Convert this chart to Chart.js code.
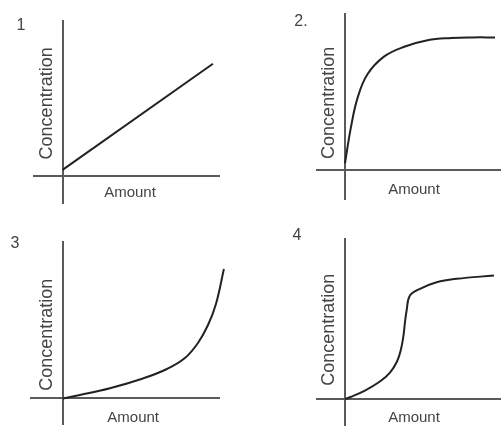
<!DOCTYPE html>
<html>
<head>
<meta charset="utf-8">
<script src="https://cdn.jsdelivr.net/npm/chart.js@4"></script>
<style>
  html, body { margin: 0; padding: 0; background: #fff; }
  #wrap { position: relative; width: 502px; height: 435px; overflow: hidden; }
  .panel { position: absolute; }
</style>
</head>
<body>
<div id="wrap">
  <div class="panel" style="left:0;top:0;width:251px;height:218px"><canvas id="c1"></canvas></div>
  <div class="panel" style="left:251px;top:0;width:251px;height:218px"><canvas id="c2"></canvas></div>
  <div class="panel" style="left:0;top:218px;width:251px;height:217px"><canvas id="c3"></canvas></div>
  <div class="panel" style="left:251px;top:218px;width:251px;height:217px"><canvas id="c4"></canvas></div>
</div>
<script>
const xTitle = "Amount";
const yTitle = "Concentration";
const panelNumbers = ["1", "2.", "3", "4"];

// 1: straight line
const amount1 = [0, 10.03];
const conc1 = [0.55, 10.2];

// 2: rises fast then levels off
const amount2 = [0, 0.4, 0.85, 1.5, 2.6, 3.95, 5.5, 7.1, 8.5, 10.0];
const conc2 = [0.6, 3.9, 6.6, 8.7, 10.3, 11.2, 11.8, 12.0, 12.05, 12.05];

// 3: slow start, steep at the end
const amount3 = [0, 1.15, 3.15, 5.35, 6.95, 8.15, 9.02, 9.69, 10.22, 10.75];
const conc3 = [0, 0.32, 0.93, 1.82, 2.68, 3.68, 5.05, 6.68, 8.59, 11.77];

// 4: s-shaped
const amount4 = [0, 0.33, 1.33, 2.33, 3.0, 3.47, 3.73, 3.9, 4.0, 4.11, 4.33, 5.0, 6.11, 7.45, 9.93];
const conc4 = [0, 0.16, 0.77, 1.59, 2.41, 3.41, 4.5, 5.77, 7.0, 8.05, 9.41, 10.02, 10.62, 10.93, 11.23];

const textFont = '"Liberation Sans", Arial, sans-serif';

const panelText = {
  id: "panelText",
  afterDraw(chart, args, opts) {
    const { ctx } = chart;
    const xs = chart.scales.x;
    const ys = chart.scales.y;
    ctx.save();
    ctx.fillStyle = "#444";
    ctx.textAlign = "center";
    ctx.textBaseline = "middle";
    ctx.font = "16px " + textFont;
    ctx.fillText(opts.num, opts.numX, opts.numY);
    ctx.font = "15px " + textFont;
    ctx.fillText(xTitle, xs.getPixelForValue(opts.xTitleAt), ys.getPixelForValue(0) + opts.xTitleGap);
    ctx.translate(xs.getPixelForValue(0) - 16, ys.getPixelForValue(opts.yTitleAt));
    ctx.rotate(-Math.PI / 2);
    ctx.font = "18px " + textFont;
    ctx.fillText(yTitle, 0, 0);
    ctx.restore();
  }
};

function axisScale(min, max) {
  return {
    type: "linear",
    min: min,
    max: max,
    afterBuildTicks: (scale) => { scale.ticks = [{ value: 0 }]; },
    grid: { color: "#5a5a5a", lineWidth: 2, drawTicks: false },
    border: { display: false },
    ticks: { display: false }
  };
}

function makePanel(id, amount, conc, tension, xr, yr, padding, text) {
  const ctx = document.getElementById(id).getContext("2d");
  new Chart(ctx, {
    type: "scatter",
    data: {
      datasets: [
        {
          data: amount.map((a, i) => ({ x: a, y: conc[i] })),
          showLine: true,
          borderColor: "#222",
          borderWidth: 2,
          pointRadius: 0,
          tension: tension,
          clip: false
        }
      ]
    },
    options: {
      responsive: true,
      maintainAspectRatio: false,
      animation: false,
      layout: { padding: padding },
      plugins: {
        legend: { display: false },
        tooltip: { enabled: false },
        panelText: text
      },
      scales: {
        x: axisScale(xr[0], xr[1]),
        y: axisScale(yr[0], yr[1])
      }
    },
    plugins: [panelText]
  });
}

makePanel("c1", amount1, conc1, 0, [-1.97, 10.5], [-2.55, 14.18],
  { left: 33, top: 20, right: 31, bottom: 14 },
  { num: panelNumbers[0], numX: 21, numY: 26, xTitleAt: 4.5, xTitleGap: 17, yTitleAt: 6.6 });

makePanel("c2", amount2, conc2, 0.4, [-1.93, 10.4], [-2.73, 14.27],
  { left: 65, top: 13, right: 1, bottom: 18 },
  { num: panelNumbers[1], numX: 50, numY: 22, xTitleAt: 4.6, xTitleGap: 20, yTitleAt: 6.1 });

makePanel("c3", amount3, conc3, 0.4, [-2.18, 10.49], [-2.41, 14.32],
  { left: 30, top: 23, right: 31, bottom: 10 },
  { num: panelNumbers[2], numX: 15, numY: 26, xTitleAt: 4.7, xTitleGap: 19, yTitleAt: 5.8 });

makePanel("c4", amount4, conc4, 0.4, [-1.93, 10.4], [-2.45, 14.64],
  { left: 65, top: 20, right: 1, bottom: 9 },
  { num: panelNumbers[3], numX: 46, numY: 18, xTitleAt: 4.6, xTitleGap: 19, yTitleAt: 6.3 });
</script>
</body>
</html>
